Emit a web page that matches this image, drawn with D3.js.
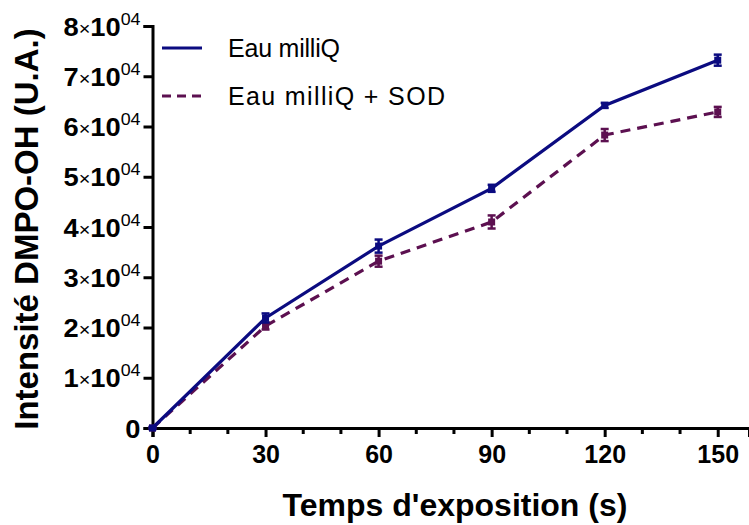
<!DOCTYPE html>
<html><head><meta charset="utf-8">
<script src="https://cdn.jsdelivr.net/npm/d3@7"></script>
<style>body{margin:0;background:#fff}svg{display:block}text{font-family:"Liberation Sans",Arial,sans-serif}</style>
</head><body>
<svg id="c" width="749" height="525"></svg>
<script>
const times = [0, 30, 60, 90, 120, 150];
const milliQ = [0, 21900, 36200, 47700, 64200, 73200];
const milliQErr = [200, 900, 1300, 700, 500, 1100];
const milliQSOD = [0, 20300, 33200, 41000, 58300, 62900];
const milliQSODErr = [200, 700, 1100, 1300, 1200, 1000];
const yTicks = [0, 10000, 20000, 30000, 40000, 50000, 60000, 70000, 80000];
const xTicks = [0, 30, 60, 90, 120, 150];
const seriesNames = ["Eau milliQ", "Eau milliQ + SOD"];
const colors = ["#0b0b80", "#5c1050"];

const svg = d3.select("#c");
const x = d3.scaleLinear().domain([0, 158.3]).range([152.5, 749]);
const y = d3.scaleLinear().domain([0, 80000]).range([428, 26]);

// Y axis
const yAxis = d3.axisLeft(y).tickValues(yTicks).tickSize(9).tickFormat("");
const gy = svg.append("g").attr("transform", "translate(152.5,0)").call(yAxis);
gy.select(".domain").attr("stroke", "#000").attr("stroke-width", 3);
gy.selectAll(".tick line").attr("stroke", "#000").attr("stroke-width", 3);
gy.selectAll(".tick").each(function(d) {
  const t = d3.select(this).append("g").attr("transform", "translate(-12,9) scale(1.05,1)")
    .append("text").attr("text-anchor", "end").attr("fill", "#000");
  if (d === 0) {
    t.append("tspan").attr("font-size", 26).attr("font-weight", "bold").text("0");
  } else {
    t.append("tspan").attr("font-size", 26).attr("font-weight", "bold").text(d / 10000);
    t.append("tspan").attr("font-size", 19).attr("dy", -1).text("\u00d7");
    t.append("tspan").attr("font-size", 26).attr("font-weight", "bold").attr("dy", 1).text("10");
    t.append("tspan").attr("font-size", 17).attr("dy", -11).text("04");
  }
});

// X axis
const xAxis = d3.axisBottom(x).tickValues(xTicks).tickSize(9).tickPadding(8).tickFormat(d3.format("d"));
const gx = svg.append("g").attr("transform", "translate(0,428)").call(xAxis);
gx.select(".domain").attr("stroke", "#000").attr("stroke-width", 3);
gx.selectAll(".tick line").attr("stroke", "#000").attr("stroke-width", 3);
gx.selectAll(".tick text").attr("font-size", 25).attr("font-weight", "bold")
  .attr("fill", "#000").style("font-family", "Liberation Sans, Arial, sans-serif");
const minor = d3.range(10, 158, 10).filter(v => v % 30 !== 0);
svg.append("g").selectAll("line").data(minor).join("line")
  .attr("x1", d => x(d)).attr("x2", d => x(d)).attr("y1", 428).attr("y2", 434)
  .attr("stroke", "#000").attr("stroke-width", 3);

// Series
const series = [
  {vals: milliQ, err: milliQErr, color: colors[0], dash: null},
  {vals: milliQSOD, err: milliQSODErr, color: colors[1], dash: "10,7"}
];
const line = d3.line().x((d, i) => x(times[i])).y(d => y(d));
series.slice().reverse().forEach(s => {
  svg.append("path").datum(s.vals).attr("d", line).attr("fill", "none")
    .attr("stroke", s.color).attr("stroke-width", 3.2)
    .attr("stroke-dasharray", s.dash);
  const g = svg.append("g");
  s.vals.forEach((v, i) => {
    const cx = x(times[i]);
    g.append("line").attr("x1", cx).attr("x2", cx).attr("y1", y(v - s.err[i])).attr("y2", y(v + s.err[i]))
      .attr("stroke", s.color).attr("stroke-width", 2.5);
    [v - s.err[i], v + s.err[i]].forEach(e => {
      g.append("line").attr("x1", cx - 4).attr("x2", cx + 4).attr("y1", y(e)).attr("y2", y(e))
        .attr("stroke", s.color).attr("stroke-width", 2.5);
    });
    g.append("rect").attr("x", cx - 3.5).attr("y", y(v) - 3.5).attr("width", 7).attr("height", 7)
      .attr("fill", s.color);
  });
});

// Legend
const legendWidths = [112, 217];
seriesNames.forEach((n, i) => {
  const ly = 48 + i * 48;
  svg.append("line").attr("x1", 162).attr("x2", 202).attr("y1", ly).attr("y2", ly)
    .attr("stroke", colors[i]).attr("stroke-width", 3)
    .attr("stroke-dasharray", i === 1 ? "9,6" : null);
  svg.append("text").attr("x", 228).attr("y", ly + 9).attr("font-size", 25).attr("fill", "#000")
    .attr("textLength", legendWidths[i]).attr("lengthAdjust", "spacing").text(n);
});

// Titles
svg.append("text").attr("x", 455).attr("y", 516).attr("text-anchor", "middle")
  .attr("font-size", 32).attr("font-weight", "bold").attr("fill", "#000").text("Temps d'exposition (s)");
svg.append("text").attr("transform", "translate(38,229) rotate(-90)").attr("text-anchor", "middle")
  .attr("font-size", 33).attr("font-weight", "bold").attr("fill", "#000").text("Intensité DMPO-OH (U.A.)");
</script>
</body></html>
